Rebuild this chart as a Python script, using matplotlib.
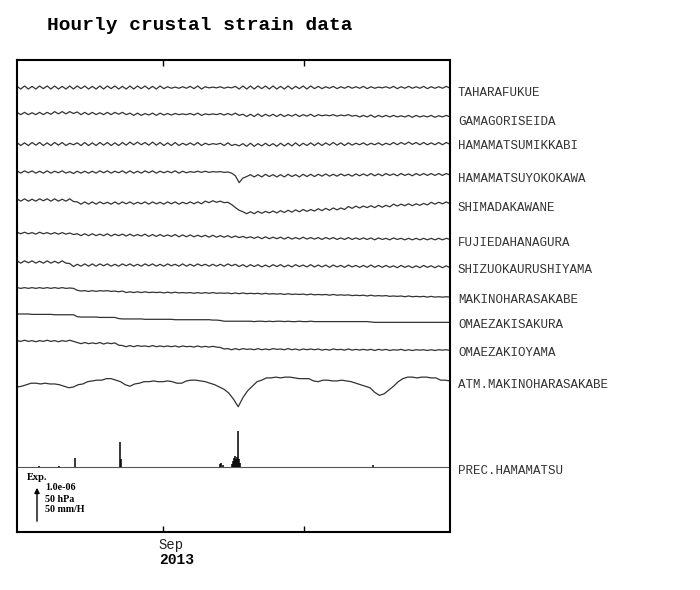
import numpy as np
import matplotlib
matplotlib.use("Agg")
import matplotlib.pyplot as plt

W, H = 700, 590

stations = ["TAHARAFUKUE", "GAMAGORISEIDA", "HAMAMATSUMIKKABI", "HAMAMATSUYOKOKAWA",
            "SHIMADAKAWANE", "FUJIEDAHANAGURA", "SHIZUOKAURUSHIYAMA", "MAKINOHARASAKABE",
            "OMAEZAKISAKURA", "OMAEZAKIOYAMA", "ATM.MAKINOHARASAKABE", "PREC.HAMAMATSU"]

# strain values in units of 1e-8, sampled every 0.8 day from 2013-08-01 to 2013-11-01
tahara = [3,-4,4,-4,3,-4,4,-3,4,-4, 4,-4,3,-4,4,-4,4,-3,4,-4, 3,-4,4,-4,4,-3,4,-4,3,-4,
          4,-4,4,-3,4,-4,3,-4,4,-3, 2,-2,1,-2,2,-2,3,-3,4,-4, 2,-1,1,-1,2,-2,1,-1,3,-4,
          4,-4,4,-4,4,-3,4,-4,4,-4, 3,-4,4,-4,3,-3,4,-4,4,-3, 3,-3,2,-2,3,-3,2,-2,3,-2,
          2,-2,3,-3,2,-2,1,-1,2,-2, 3,-3,2,-2,3,-2,2,-2,3,-3, 2,-2,2,-2,3,-2]
gamagori = [3,-3,3,-3,2,-3,3,-3,3,-2, 5,-1,5,-1,5,0,4,-3,3,-3, 3,-3,2,-3,3,-3,3,-2,3,-3,
            1,-5,1,-5,0,-4,1,-5,1,-4, 0,-4,0,-3,-1,-3,0,-4,1,-5, -1,-3,-1,-3,0,-4,0,-4,1,-5,
            -2,-8,-2,-8,-1,-8,-2,-7,-2,-8, -2,-8,-3,-7,-2,-8,-3,-7,-2,-8,
            -3,-6,-4,-6,-3,-7,-4,-6,-3,-7, -5,-9,-5,-9,-4,-10,-5,-9,-5,-9,
            -5,-9,-6,-9,-5,-10,-5,-9,-6,-9, -5,-10,-6,-9,-5,-9]
mikkabi = [4,-4,3,-4,4,-3,4,-4,3,-4, 4,-3,4,-4,2,-2,3,-4,4,-4, 3,-4,4,-3,4,-4,3,-4,4,-3,
           5,-2,5,-2,4,-3,5,-3,4,-4, 3,-4,4,-4,2,-3,3,-3,4,-4, 2,-2,1,-1,2,-4,3,-4,-1,-5,
           1,-6,2,-6,1,-5,2,-5,1,-6, 2,-5,2,-5,3,-5,2,-4,3,-4, 3,-4,3,-3,4,-3,3,-4,3,-3,
           2,-2,3,-3,2,-2,3,-3,2,-2, 4,-2,4,-1,5,-1,4,-2,4,-2, 3,-2,4,-2,4,-1]
yokokawa = [3,-3,3,-2,3,-3,2,-3,3,-3, 2,-2,3,-3,1,-4,2,-3,2,-3, 2,-3,3,-2,3,-3,2,-2,3,-3,
            3,-3,2,-3,3,-2,3,-3,2,-2, 2,-2,3,-3,2,-2,1,-1,2,-1, 2,-1,1,0,1,-1,0,-3,-10,-28,
            -16,-12,-7,-13,-7,-13,-6,-12,-7,-13, -7,-13,-6,-12,-7,-13,-6,-12,-6,-12,
            -6,-11,-5,-11,-6,-11,-5,-10,-6,-11, -5,-10,-5,-10,-4,-10,-5,-10,-4,-9,
            -5,-10,-4,-9,-5,-10,-4,-9,-4,-9, -4,-9,-4,-9,-4,-8]
kawane = [3,-3,3,-3,2,-3,3,-2,3,-3, 3,-3,2,-3,3,-4,-5,-11,-5,-11,
          -5,-11,-5,-10,-6,-11,-5,-11,-5,-10, -5,-11,-6,-10,-5,-11,-5,-10,-6,-11,
          -5,-10,-5,-11,-6,-10,-5,-10,-5,-10, -3,-7,-2,-6,-3,-7,-6,-12,-20,-27,
          -31,-36,-31,-36,-30,-35,-30,-34,-29,-34, -28,-33,-27,-32,-26,-31,-25,-30,-25,-29,
          -23,-28,-22,-27,-21,-26,-21,-25,-17,-22, -16,-21,-16,-20,-15,-20,-14,-19,-14,-18,
          -11,-16,-11,-15,-10,-15,-10,-14,-9,-13, -6,-11,-6,-10,-5,-10]
hanagura = [2,-2,2,-2,1,-3,2,-2,1,-3, 1,-3,1,-3,0,-4,-2,-7,-2,-7, -2,-7,-3,-7,-2,-8,-3,-7,-3,-8,
            -3,-8,-4,-8,-3,-9,-4,-9,-4,-9, -5,-9,-4,-10,-5,-10,-5,-10,-6,-10,
            -6,-11,-6,-11,-7,-11,-7,-12,-8,-12, -9,-13,-10,-14,-10,-15,-10,-15,-11,-15,
            -11,-16,-11,-16,-12,-16,-11,-16,-12,-16, -12,-17,-12,-16,-12,-17,-13,-17,-12,-17,
            -13,-17,-13,-17,-13,-18,-13,-17,-14,-18, -13,-17,-14,-18,-14,-18,-14,-18,-14,-18,
            -14,-18,-14,-18,-14,-17]
urushiyama = [3,-3,3,-2,3,-3,2,-3,3,-3, 2,-3,3,-3,-4,-12,-6,-11,-5,-11,
              -5,-11,-5,-10,-5,-11,-6,-11,-5,-10, -5,-11,-6,-11,-5,-10,-5,-11,-6,-11,
              -5,-10,-6,-11,-5,-11,-6,-11,-5,-10, -6,-11,-6,-11,-6,-11,-5,-10,-6,-12,
              -7,-13,-7,-12,-7,-13,-8,-13,-7,-12, -7,-13,-8,-13,-7,-12,-8,-13,-7,-13,
              -8,-13,-8,-14,-8,-13,-9,-14,-8,-13, -9,-14,-9,-14,-8,-14,-9,-14,-9,-14,
              -10,-15,-9,-14,-10,-15,-10,-15,-9,-14, -10,-15,-10,-15,-10,-15]
sakabe = [1,-1,1,-1,1,-1,1,-1,1,-1, 1,-1,1,-1,0,-1,-6,-8,-7,-9, -7,-9,-7,-8,-7,-9,-8,-10,-8,-12,
          -10,-12,-10,-12,-10,-12,-11,-12,-11,-13, -11,-13,-11,-13,-12,-13,-12,-14,-12,-14,
          -12,-14,-12,-14,-13,-14,-13,-15,-13,-15, -13,-15,-14,-15,-14,-16,-14,-16,-15,-16,
          -15,-17,-15,-17,-16,-17,-16,-18,-16,-18, -17,-18,-17,-19,-17,-19,-18,-19,-18,-20,
          -19,-20,-19,-21,-19,-21,-20,-21,-20,-22, -21,-22,-21,-23,-21,-23,-22,-23,-22,-24,
          -22,-24,-23,-24,-23,-24]
sakura = [0,0,0,0,-1,-1,-1,-1,-1,-1, -2,-2,-2,-2,-2,-2,-7,-8,-8,-8, -8,-8,-9,-9,-9,-9,-9,-12,-13,-13,
          -13,-13,-13,-13,-14,-14,-14,-14,-14,-14, -14,-14,-15,-15,-15,-15,-15,-15,-15,-15,
          -15,-15,-16,-16,-17,-19,-19,-19,-19,-19, -19,-19,-19,-20,-19,-19,-20,-19,-20,-19,
          -19,-20,-19,-20,-20,-19,-20,-20,-19,-20, -20,-20,-20,-20,-20,-20,-20,-20,-20,-20,
          -20,-20,-20,-20,-21,-22,-22,-22,-22,-22, -22,-22,-22,-22,-22,-22,-22,-22,-22,-22,
          -22,-22,-22,-22,-22,-22]
oyama = [1,-1,2,-1,1,-2,1,-1,2,-1, 1,-2,1,-1,2,-1,-4,-7,-4,-7, -5,-7,-4,-8,-5,-7,-5,-11,-12,-15,
         -12,-15,-12,-14,-13,-15,-12,-15,-13,-15, -13,-15,-13,-16,-13,-15,-14,-16,-13,-16,
         -14,-16,-14,-16,-17,-21,-20,-23,-20,-23, -20,-22,-21,-23,-20,-23,-21,-23,-20,-22,
         -21,-23,-20,-23,-21,-24,-21,-23,-21,-23, -21,-24,-22,-24,-21,-23,-22,-24,-21,-24,
         -22,-24,-22,-24,-22,-25,-22,-24,-22,-25, -23,-24,-22,-25,-23,-25,-23,-24,-23,-25,
         -23,-25,-23,-24,-23,-25]

# atmospheric pressure (hPa), daily
atm = [1008,1009,1011,1013,1013,1012,1013,1012,1012,1011,
       1009,1007,1008,1011,1012,1015,1016,1017,1017,1019,
       1019,1017,1015,1011,1009,1012,1013,1015,1015,1016,
       1015,1015,1016,1015,1013,1013,1016,1017,1017,1016,
       1015,1013,1011,1008,1005,1000,992,982,994,1003,
       1009,1015,1017,1020,1020,1021,1020,1021,1021,1020,
       1019,1019,1019,1016,1015,1017,1017,1016,1016,1017,
       1016,1015,1013,1011,1009,1007,1001,997,999,1004,
       1009,1015,1019,1021,1021,1020,1021,1021,1020,1020,
       1017,1017,1016]

# precipitation (mm/H): day offset from 2013-08-01 and amount
prec_day = [4.67, 8.92, 12.32, 21.88, 22.1, 43.13, 43.34, 43.76, 45.68, 45.89,
            46.1, 46.31, 46.53, 46.74, 46.95, 47.16, 47.38, 75.63]
prec_mm = [1, 1, 12, 33, 10, 4, 5, 2, 4, 8, 12, 14, 10, 13, 47, 10, 5, 3]

strain_series = [tahara, gamagori, mikkabi, yokokawa, kawane, hanagura,
                 urushiyama, sakabe, sakura, oyama]

# layout (pixel rows of each trace)
strain_base_px = [87.5, 113.5, 144, 172, 200, 233, 262, 288, 314, 341]
atm_base_px, atm_ref = 387, 1008
prec_base_px = 467
label_y_px = [93, 122, 146, 179, 208, 243, 270, 300, 325, 353, 385, 471]
PX_STRAIN = 0.38   # px per 1e-8 strain
PX_HPA = 0.76      # px per hPa
PX_MM = 0.76       # px per mm/H

LINE = "#333333"
MONO = "Liberation Mono"
SERIF = "Liberation Serif"

fig = plt.figure(figsize=(W / 100, H / 100), dpi=100)
ax = fig.add_axes([17 / W, 1 - 532 / H, 433 / W, 472 / H])
ax.set_xlim(0, 92)
ax.set_ylim(532, 60)

for s, base in zip(strain_series, strain_base_px):
    x = np.linspace(0, 92, len(s))
    ax.plot(x, base - np.array(s) * PX_STRAIN, color=LINE, lw=0.9)

xa = np.linspace(0, 92, len(atm))
ax.plot(xa, atm_base_px - (np.array(atm) - atm_ref) * PX_HPA, color=LINE, lw=0.9)

ax.axhline(prec_base_px, color="#555555", lw=0.8)
ax.vlines(prec_day, prec_base_px, prec_base_px - np.array(prec_mm) * PX_MM,
          color="black", lw=1.1)

for sp in ax.spines.values():
    sp.set_linewidth(1.5)
ax.set_yticks([])
ax.set_xticks([31, 61])
ax.set_xticklabels([])
ax.tick_params(axis="x", direction="in", length=4, width=1, top=True, bottom=True)

ax.annotate("Sep", xy=(31, 0), xycoords=("data", "axes fraction"),
            xytext=(-4, -13), textcoords="offset pixels", ha="left", va="center",
            fontsize=10, family=MONO, color="#222222")
ax.annotate("2013", xy=(31, 0), xycoords=("data", "axes fraction"),
            xytext=(-4, -28), textcoords="offset pixels", ha="left", va="center",
            fontsize=10.5, family=MONO, fontweight="bold")

def fx(px):
    return px / W

def fy(py):
    return 1 - py / H

fig.text(fx(47), fy(25), "Hourly crustal strain data", family=MONO, fontweight="bold",
         fontsize=14, ha="left", va="center")

for name, yl in zip(stations, label_y_px):
    fig.text(fx(458), fy(yl), name, family=MONO, fontsize=9, ha="left", va="center",
             color="#333333")

# scale bar
fig.text(fx(27), fy(477), "Exp.", family=SERIF, fontweight="bold", fontsize=7.5,
         ha="left", va="center")
for txt, yy in zip(["1.0e-06", "50 hPa", "50 mm/H"], [488, 499, 510]):
    fig.text(fx(45), fy(yy), txt, family=SERIF, fontweight="bold", fontsize=7.2,
             ha="left", va="center")
fig.patches.append(matplotlib.patches.FancyArrowPatch(
    (fx(37), fy(524)), (fx(37), fy(485)), transform=fig.transFigure,
    arrowstyle="-|>,head_length=3,head_width=1.5", color="black", lw=1, mutation_scale=1))

fig.savefig("out.png", dpi=100)
